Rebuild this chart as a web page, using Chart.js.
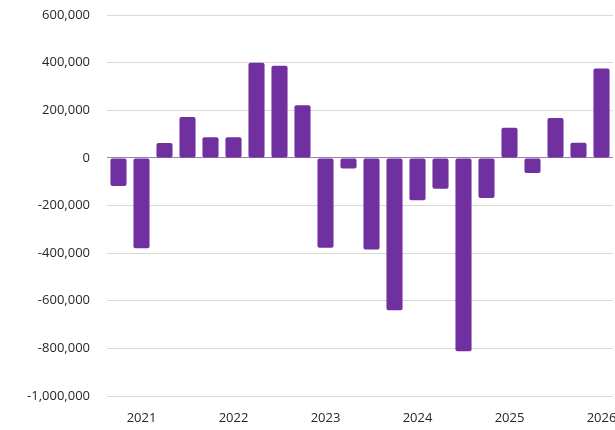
<!DOCTYPE html>
<html>
<head>
<meta charset="utf-8">
<script src="https://cdn.jsdelivr.net/npm/chart.js@4.4.0/dist/chart.umd.min.js"></script>
<style>
  html, body { margin: 0; padding: 0; background: #fff; }
  #wrap { width: 615px; height: 430px; }
</style>
</head>
<body>
<div id="wrap"><canvas id="grafico"></canvas></div>
<script>
// Trimestres (2020 T4 a 2026 T1)
const trimestres = [
  '2020Q4',
  '2021Q1', '2021Q2', '2021Q3', '2021Q4',
  '2022Q1', '2022Q2', '2022Q3', '2022Q4',
  '2023Q1', '2023Q2', '2023Q3', '2023Q4',
  '2024Q1', '2024Q2', '2024Q3', '2024Q4',
  '2025Q1', '2025Q2', '2025Q3', '2025Q4',
  '2026Q1'
];
const valores = [
  -118000,
  -380000, 62000, 172000, 87000,
  87000, 400000, 387000, 221000,
  -377000, -45000, -385000, -640000,
  -178000, -130000, -812000, -168000,
  127000, -63000, 167000, 63000,
  375000
];
const ejeY = { min: -1000000, max: 600000, paso: 200000 };

const fuente = { family: "'Open Sans', 'Noto Sans', sans-serif", size: 13 };

new Chart(document.getElementById('grafico').getContext('2d'), {
  type: 'bar',
  data: {
    labels: trimestres,
    datasets: [{
      data: valores,
      backgroundColor: '#7030A0',
      borderRadius: 2,
      borderSkipped: false,
      categoryPercentage: 1,
      barPercentage: 0.7
    }]
  },
  options: {
    responsive: true,
    maintainAspectRatio: false,
    animation: false,
    layout: { padding: { top: 15, right: 2, left: 0, bottom: 0 } },
    plugins: { legend: { display: false }, tooltip: { enabled: false } },
    scales: {
      x: {
        grid: { display: false },
        border: { display: false },
        ticks: {
          color: '#262626',
          font: fuente,
          maxRotation: 0,
          autoSkip: false,
          padding: 6,
          callback: function (v, i) {
            const t = trimestres[i];
            return t.endsWith('Q1') ? t.slice(0, 4) : '';
          }
        },
        afterFit: function (eje) {
          eje.height = 34;
          eje.paddingLeft = 0;
          eje.paddingRight = 0; // el ultimo rotulo queda cortado, como en el original
        }
      },
      y: {
        min: ejeY.min,
        max: ejeY.max,
        border: { display: false },
        grid: {
          color: ctx => ctx.tick && ctx.tick.value === 0 ? '#9b7cb8' : '#d9d9d9',
          lineWidth: 1,
          drawTicks: false
        },
        ticks: {
          stepSize: ejeY.paso,
          color: '#262626',
          font: fuente,
          padding: 17,
          callback: v => v.toLocaleString('en-US')
        },
        afterFit: function (eje) {
          eje.width = 107;
          eje.paddingTop = 0;
          eje.paddingBottom = 0;
        }
      }
    }
  }
});
</script>
</body>
</html>
